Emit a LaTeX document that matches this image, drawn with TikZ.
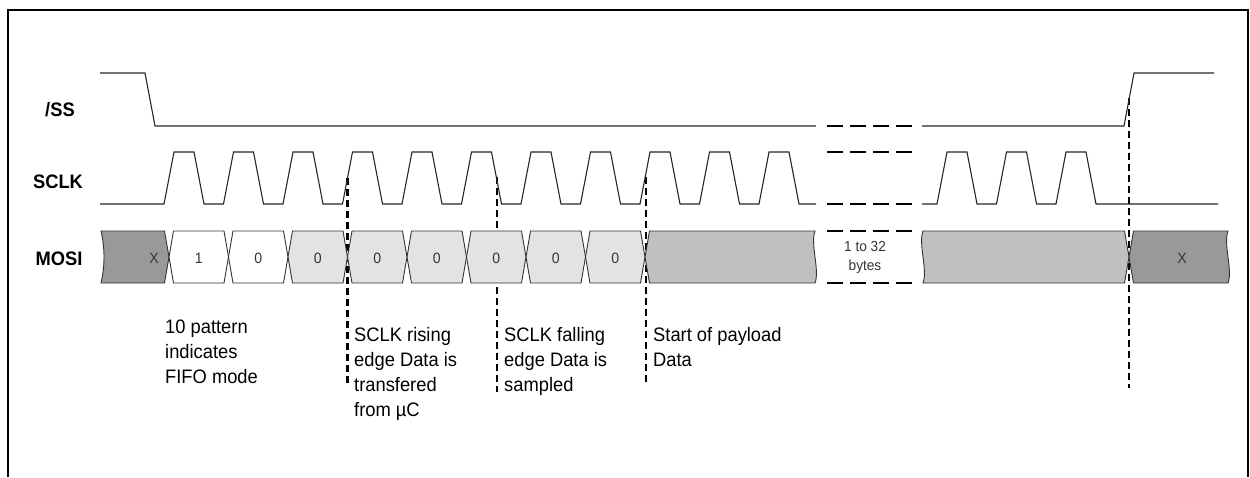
\documentclass[tikz,border=0pt]{standalone}
\usepackage{fontspec}
\setmainfont{Liberation Sans}[FakeStretch=0.94]
\definecolor{xdark}{HTML}{999999}
\definecolor{lite}{HTML}{E3E3E5}
\definecolor{pay}{HTML}{C0C0C0}
\newcommand\mycell[5]{%
  \filldraw[cellbox,fill=#1] (#2,257) -- ({#2+4.5},231) -- ({#3-4.5},231) -- (#3,257) -- ({#3-4.5},283) -- ({#2+4.5},283) -- cycle;
  \node[celltxt] (#4) at ({(#2+#3)/2},258) {#5};}
\begin{document}
\begin{tikzpicture}[x=1pt,y=-1pt,
  sig/.style={line width=1.1pt,black!85,line join=miter},
  cellbox/.style={line width=0.9pt,draw=black!80},
  celltxt/.style={font=\fontsize{15}{17}\selectfont,text=black!80,inner sep=0pt},
  gapdash/.style={line width=2.3pt,dash pattern=on 16pt off 7pt},
  vdash/.style={line width=2.4pt,dash pattern=on 7pt off 4pt},
  signame/.style={font=\bfseries\fontsize{19.5}{22}\selectfont,anchor=base,inner sep=0pt},
  note/.style={font=\fontsize{19.5}{25}\selectfont,align=left,anchor=north west,inner sep=0pt}]
\useasboundingbox (0,0) rectangle (1250,477);
% frame
\draw[line width=2.5pt] (8,477) -- (8,10) -- (1248,10) -- (1248,477);
% signal names
\node[signame] (ss) at (60,116) {/SS};
\node[signame] (sclk) at (58,188) {SCLK};
\node[signame] (mosi) at (59,265) {MOSI};
% dashed markers (behind the bus)
\coordinate (r1t) at (347.5,178); \coordinate (r1b) at (347.5,384);
\coordinate (f1t) at (497,177);   \coordinate (f1b) at (497,392);
\coordinate (p1t) at (646,177);   \coordinate (p1b) at (646,382);
\coordinate (e1t) at (1129,98);   \coordinate (e1b) at (1129,388);
\draw[vdash] (r1t) -- (r1b);
\draw[vdash] (f1t) -- (f1b);
\draw[vdash] (p1t) -- (p1b);
\draw[vdash] (e1t) -- (e1b);
% /SS
\draw[sig] (100,73) -- (145,73) -- (155,126) -- (816,126);
\draw[sig] (922,126) -- (1124,126) -- (1134,73) -- (1214,73);
% SCLK
\draw[sig] (100,204) foreach \k in {0,...,10} { -- ({164+59.5*\k},204) -- ({174+59.5*\k},152) -- ({194+59.5*\k},152) -- ({204+59.5*\k},204) } -- (816,204);
\draw[sig] (922,204) foreach \s in {937,996.5,1056} { -- (\s,204) -- ({\s+10},152) -- ({\s+30},152) -- ({\s+40},204) } -- (1218,204);
% gap
\draw[gapdash] (827,126) -- (912,126);
\draw[gapdash] (827,152) -- (912,152);
\draw[gapdash] (827,204) -- (912,204);
\draw[gapdash] (827,231) -- (912,231);
\draw[gapdash] (827,283) -- (912,283);
\node[celltxt,align=center,font=\fontsize{14.5}{19}\selectfont] (bytes) at (865,257) {1 to 32\\bytes};
% MOSI bus
\filldraw[cellbox,fill=xdark] (101,283) .. controls (105,266) and (105,248) .. (101,231) -- (164.5,231) -- (169,257) -- (164.5,283) -- cycle;
\node[celltxt] (x1) at (154,258) {X};
\mycell{white}{169}{228.5}{b1}{1}
\mycell{white}{228.5}{288}{b2}{0}
\mycell{lite}{288}{347.5}{b3}{0}
\mycell{lite}{347.5}{407}{b4}{0}
\mycell{lite}{407}{466.5}{b5}{0}
\mycell{lite}{466.5}{526}{b6}{0}
\mycell{lite}{526}{585.5}{b7}{0}
\mycell{lite}{585.5}{645}{b8}{0}
\filldraw[cellbox,fill=pay] (645,257) -- (649.5,231) -- (815,231) .. controls (810,244) and (820,270) .. (815,283) -- (649.5,283) -- cycle;
\filldraw[cellbox,fill=pay] (923,231) -- (1124.5,231) -- (1129,257) -- (1124.5,283) -- (923,283) .. controls (928,270) and (918,244) .. (923,231) -- cycle;
\filldraw[cellbox,fill=xdark] (1129,257) -- (1133.5,231) -- (1228,231) .. controls (1223,244) and (1233,270) .. (1228,283) -- (1133.5,283) -- cycle;
\node[celltxt] (x2) at (1182,258) {X};
% notes
\node[note] (n1) at (165,320) {10 pattern\\indicates\\FIFO mode};
\node[note] (n2) at (354,327) {SCLK rising\\edge Data is\\transfered\\from µC};
\node[note] (n3) at (504,327) {SCLK falling\\edge Data is\\sampled};
\node[note] (n4) at (653,327) {Start of payload\\Data};
\end{tikzpicture}
\end{document}
